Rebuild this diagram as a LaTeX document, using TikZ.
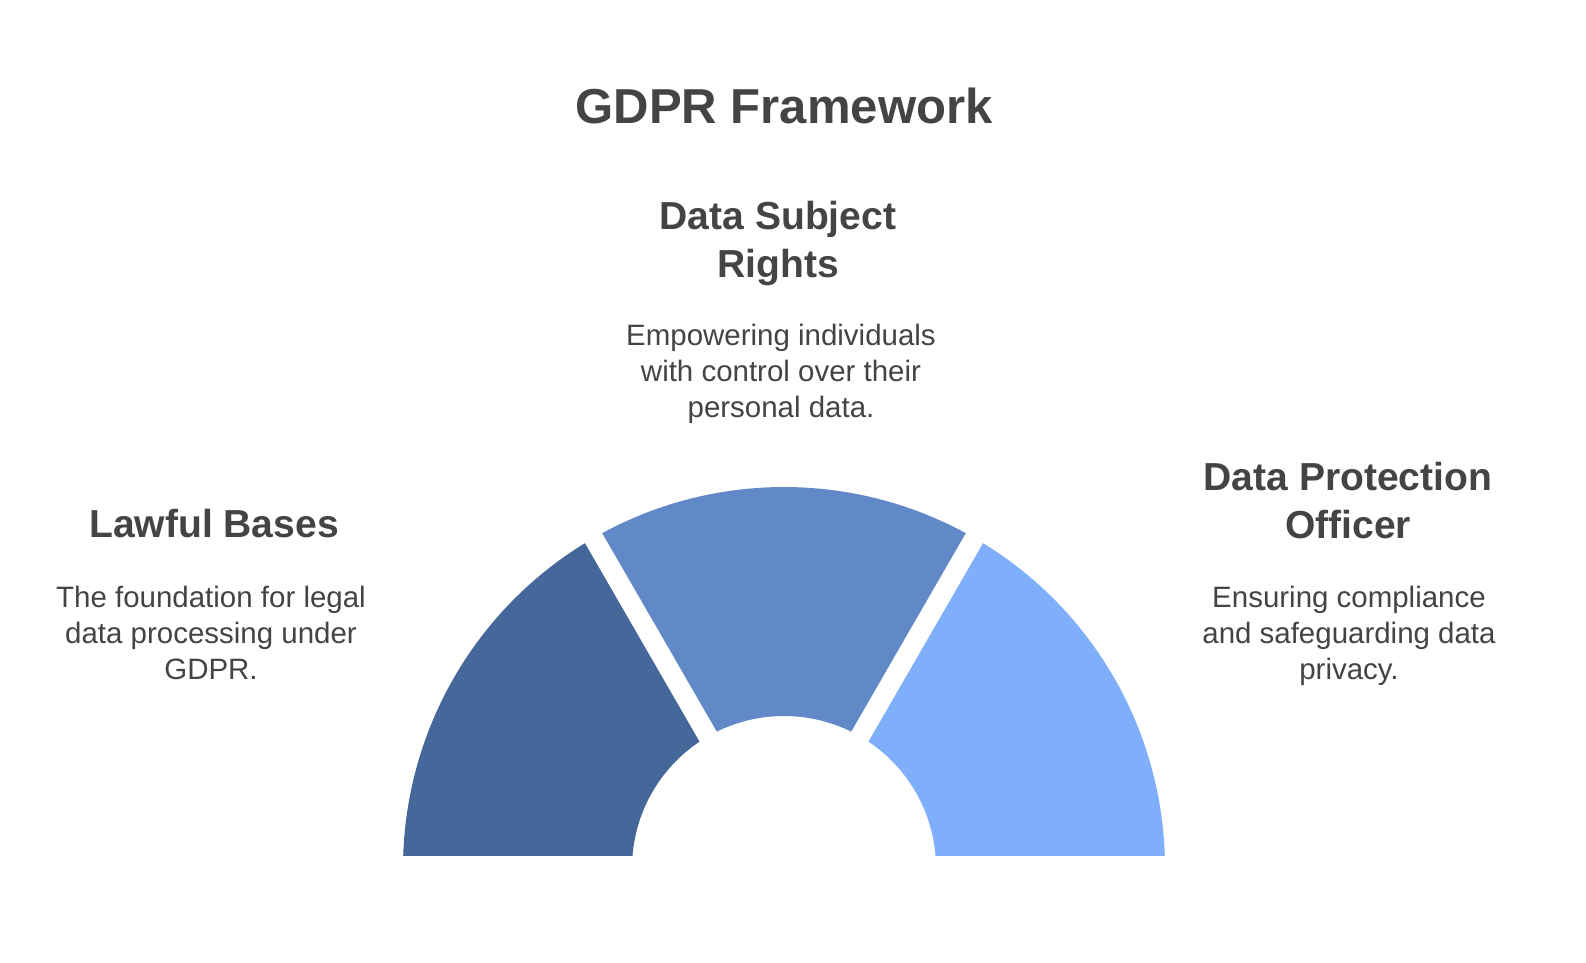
\documentclass[tikz,border=0pt]{standalone}
\usepackage{fontspec}
\setmainfont{Liberation Sans}
\definecolor{txtgray}{HTML}{444444}
\definecolor{segdark}{HTML}{46679A}
\definecolor{segmid}{HTML}{6289C7}
\definecolor{seglight}{HTML}{7FAEFA}
\tikzset{
  titletext/.style={anchor=base, inner sep=0pt, text=txtgray, font=\fontsize{36.8}{44}\selectfont\bfseries},
  headtext/.style={anchor=base, inner sep=0pt, align=center, text=txtgray, font=\fontsize{29.3}{36}\selectfont\bfseries},
  bodytext/.style={anchor=base, inner sep=0pt, align=center, text=txtgray, font=\fontsize{22.1}{27}\selectfont},
}
\begin{document}
\begin{tikzpicture}[x=0.75pt, y=0.75pt]
\useasboundingbox (0,0) rectangle (1586,963);
\fill[white] (0,0) rectangle (1586,963);
% half donut, centre at (784,95); gaps of 20 units along the 60 and 120 degree rays
\begin{scope}[shift={(784,95)}]
  \fill[segdark] (178.195:381) arc[start angle=178.195, end angle=121.504, radius=381]
    -- (123.772:152) arc[start angle=123.772, end angle=175.472, radius=152] -- cycle;
  \fill[segmid] (118.496:381) arc[start angle=118.496, end angle=61.504, radius=381]
    -- (63.772:152) arc[start angle=63.772, end angle=116.228, radius=152] -- cycle;
  \fill[seglight] (58.496:381) arc[start angle=58.496, end angle=1.805, radius=381]
    -- (4.528:152) arc[start angle=4.528, end angle=56.228, radius=152] -- cycle;
\end{scope}
% multi-line nodes: anchor=base sits on the last line's baseline
\node[titletext] (title) at (784,839) {GDPR Framework};
\node[headtext] (dsr) at (778,685) {Data Subject\\Rights};
\node[bodytext] (dsrtext) at (781,545) {Empowering individuals\\with control over their\\personal data.};
\node[headtext] (lb) at (214,425) {Lawful Bases};
\node[bodytext] (lbtext) at (211,283) {The foundation for legal\\data processing under\\GDPR.};
\node[headtext] (dpo) at (1348,424) {Data Protection\\Officer};
\node[bodytext] (dpotext) at (1349,283) {Ensuring compliance\\and safeguarding data\\privacy.};
\end{tikzpicture}
\end{document}
